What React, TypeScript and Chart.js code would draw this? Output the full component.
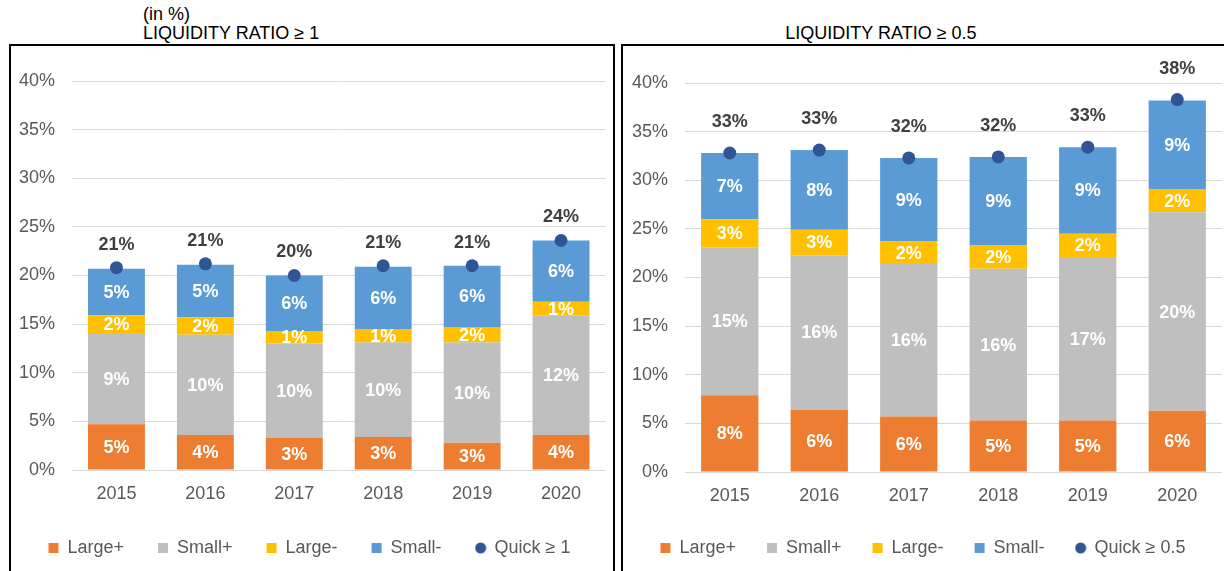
import React, { useEffect, useRef } from "react";
import { Chart, registerables } from "chart.js";

Chart.register(...registerables);

const FONT = "'Liberation Sans', Arial, Helvetica, sans-serif";
Chart.defaults.font.family = FONT;

// ---------- data ----------
const years = ["2015", "2016", "2017", "2018", "2019", "2020"];
const seriesNames = ["Large+", "Small+", "Large-", "Small-"];
const seriesColors = ["#ED7D31", "#BFBFBF", "#FFC000", "#5B9BD5"];
const quickColor = "#2F5597";

// Liquidity ratio >= 1
const r1LargePlus = [4.7, 3.6, 3.3, 3.4, 2.8, 3.6];
const r1SmallPlus = [9.4, 10.3, 9.7, 9.7, 10.3, 12.3];
const r1LargeMinus = [1.8, 1.8, 1.3, 1.4, 1.6, 1.4];
const r1SmallMinus = [4.8, 5.4, 5.7, 6.4, 6.3, 6.3];
const r1Quick = [20.8, 21.2, 20.0, 21.0, 21.0, 23.6];

// Liquidity ratio >= 0.5
const r2LargePlus = [7.9, 6.4, 5.7, 5.3, 5.3, 6.3];
const r2SmallPlus = [15.2, 15.9, 15.7, 15.6, 16.8, 20.4];
const r2LargeMinus = [2.9, 2.6, 2.3, 2.4, 2.4, 2.4];
const r2SmallMinus = [6.8, 8.2, 8.6, 9.1, 8.9, 9.1];
const r2Quick = [32.8, 33.1, 32.3, 32.4, 33.4, 38.3];

const yMin = 0;
const yMax = 40;
const yStep = 5;

// ---------- plugin: value labels ----------
const valueLabels = {
  id: "valueLabels",
  afterDatasetsDraw(chart: any, _args: any, opts: any) {
    const ctx = chart.ctx;
    ctx.save();
    ctx.textAlign = "center";
    ctx.textBaseline = "middle";
    chart.data.datasets.forEach((ds: any, di: number) => {
      const meta = chart.getDatasetMeta(di);
      if (meta.hidden) return;
      meta.data.forEach((el: any, i: number) => {
        const v = ds.data[i];
        const txt = Math.round(v) + "%";
        if (ds.type === "line") {
          ctx.fillStyle = "#404040";
          ctx.font = `bold 18px ${FONT}`;
          ctx.fillText(txt, el.x, el.y - (opts.totalOffset || 24));
        } else {
          const p = el.getProps(["x", "y", "base"], true);
          ctx.fillStyle = "#FFFFFF";
          ctx.font = `bold 18px ${FONT}`;
          ctx.fillText(txt, p.x, (p.y + p.base) / 2 + 1);
        }
      });
    });
    ctx.restore();
  },
};

function makeDot(): HTMLCanvasElement {
  const c = document.createElement("canvas");
  c.width = 12;
  c.height = 12;
  const g = c.getContext("2d")!;
  g.fillStyle = quickColor;
  g.beginPath();
  g.arc(6, 6, 5.5, 0, Math.PI * 2);
  g.fill();
  return c;
}

type PanelCfg = {
  x: number;
  y: number;
  w: number;
  h: number;
  padTop: number;
  padRight: number;
  padBottom: number;
  yAxisWidth: number;
  xAxisHeight: number;
  legendPadding: number;
  totalOffset: number;
  quickLabel: string;
  series: number[][];
  quick: number[];
};

function Panel({ cfg }: { cfg: PanelCfg }) {
  const ref = useRef<HTMLCanvasElement>(null);
  useEffect(() => {
    if (!ref.current) return;
    const dot = makeDot();
    const datasets: any[] = cfg.series.map((d, i) => ({
      type: "bar",
      label: seriesNames[i],
      data: d,
      backgroundColor: seriesColors[i],
      borderWidth: 0,
      stack: "s",
      order: 1,
      pointStyle: "rect",
    }));
    datasets.push({
      type: "line",
      label: cfg.quickLabel,
      data: cfg.quick,
      showLine: false,
      pointRadius: 6.5,
      pointHoverRadius: 6.5,
      pointBackgroundColor: quickColor,
      pointBorderWidth: 0,
      backgroundColor: quickColor,
      borderColor: quickColor,
      stack: "q",
      order: 0,
    });
    const chart = new Chart(ref.current, {
      type: "bar",
      data: { labels: years, datasets },
      options: {
        responsive: false,
        animation: false,
        devicePixelRatio: 1,
        layout: {
          padding: { top: cfg.padTop, right: cfg.padRight, bottom: cfg.padBottom, left: 0 },
        },
        datasets: { bar: { barPercentage: 0.64, categoryPercentage: 1 } },
        scales: {
          x: {
            stacked: true,
            grid: { display: false },
            border: { display: false },
            ticks: { color: "#595959", font: { size: 18 }, padding: 5 },
            afterFit: (s: any) => {
              s.height = cfg.xAxisHeight;
            },
          },
          y: {
            stacked: true,
            min: yMin,
            max: yMax,
            ticks: {
              stepSize: yStep,
              color: "#595959",
              font: { size: 18 },
              padding: 17,
              callback: (v: any) => v + "%",
            },
            grid: { color: "#D9D9D9", lineWidth: 1, drawTicks: false },
            border: { display: false },
            afterFit: (s: any) => {
              s.width = cfg.yAxisWidth;
            },
          },
        },
        plugins: {
          legend: {
            position: "bottom",
            labels: {
              usePointStyle: true,
              boxWidth: 10,
              boxHeight: 10,
              padding: cfg.legendPadding,
              color: "#595959",
              font: { size: 18 },
              sort: (a: any, b: any) => a.datasetIndex - b.datasetIndex,
              generateLabels: (ch: any) => {
                const items = (Chart.defaults.plugins.legend.labels as any).generateLabels(ch);
                items.forEach((it: any) => {
                  if (it.datasetIndex === 4) {
                    it.pointStyle = dot;
                  } else {
                    it.pointStyle = "rect";
                    it.lineWidth = 0;
                  }
                });
                return items;
              },
            },
          },
          tooltip: { enabled: false },
          valueLabels: { totalOffset: cfg.totalOffset },
        } as any,
      },
      plugins: [valueLabels],
    } as any);
    return () => chart.destroy();
  }, []);
  return (
    <canvas
      ref={ref}
      width={cfg.w}
      height={cfg.h}
      style={{ position: "absolute", left: cfg.x, top: cfg.y, width: cfg.w, height: cfg.h }}
    />
  );
}

const leftCfg: PanelCfg = {
  x: 11,
  y: 46,
  w: 601,
  h: 525,
  padTop: 35,
  padRight: 4,
  padBottom: 4,
  yAxisWidth: 61,
  xAxisHeight: 35,
  legendPadding: 34,
  totalOffset: 23,
  quickLabel: "Quick ≥ 1",
  series: [r1LargePlus, r1SmallPlus, r1LargeMinus, r1SmallMinus],
  quick: r1Quick,
};

const rightCfg: PanelCfg = {
  x: 624,
  y: 46,
  w: 612,
  h: 525,
  padTop: 37,
  padRight: 14,
  padBottom: 4,
  yAxisWidth: 61,
  xAxisHeight: 36,
  legendPadding: 31,
  totalOffset: 31,
  quickLabel: "Quick ≥ 0.5",
  series: [r2LargePlus, r2SmallPlus, r2LargeMinus, r2SmallMinus],
  quick: r2Quick,
};

export default function App() {
  const titleStyle: React.CSSProperties = {
    position: "absolute",
    fontFamily: FONT,
    fontSize: 18,
    lineHeight: "20px",
    color: "#000",
    whiteSpace: "nowrap",
  };
  return (
    <div
      style={{
        position: "fixed",
        left: 0,
        top: 0,
        width: 1224,
        height: 571,
        overflow: "hidden",
        background: "#fff",
      }}
    >
      <div style={{ ...titleStyle, left: 143, top: 4 }}>(in %)</div>
      <div style={{ ...titleStyle, left: 143, top: 23 }}>LIQUIDITY RATIO ≥ 1</div>
      <div style={{ ...titleStyle, left: 681, top: 23, width: 400, textAlign: "center" }}>
        LIQUIDITY RATIO ≥ 0.5
      </div>
      <div
        style={{
          position: "absolute",
          left: 9,
          top: 44,
          width: 606,
          height: 600,
          border: "2px solid #000",
          boxSizing: "border-box",
        }}
      />
      <div
        style={{
          position: "absolute",
          left: 621,
          top: 44,
          width: 660,
          height: 600,
          border: "2px solid #000",
          boxSizing: "border-box",
        }}
      />
      <Panel cfg={leftCfg} />
      <Panel cfg={rightCfg} />
    </div>
  );
}
